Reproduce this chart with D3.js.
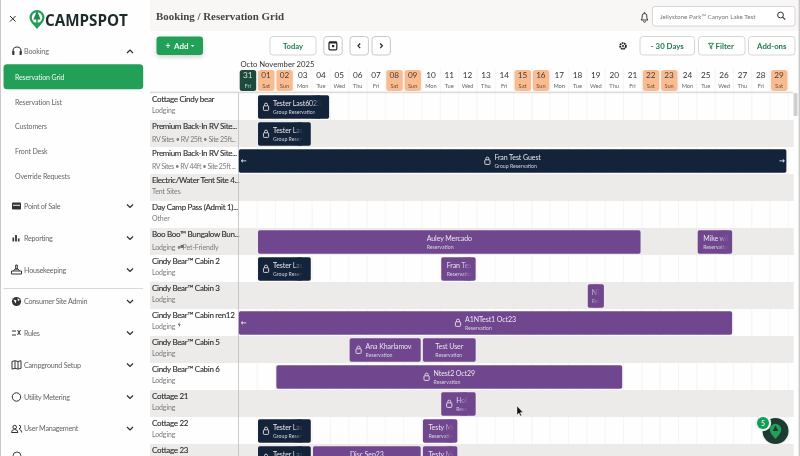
<!DOCTYPE html>
<html><head><meta charset="utf-8">
<script src="https://cdn.jsdelivr.net/npm/d3@7"></script>
<style>
html,body{margin:0;padding:0;background:#fff;overflow:hidden}
svg{display:block;filter:blur(.32px)}
text{font-family:Lato,"Noto Sans",sans-serif}
</style></head><body><svg id="c" width="800" height="456"></svg>
<script>
// ---------- data ----------
const dayNumbers=["31","01","02","03","04","05","06","07","08","09","10","11","12","13","14","15","16","17","18","19","20","21","22","23","24","25","26","27","28","29"];
const dayNames=["Fri","Sat","Sun","Mon","Tue","Wed","Thu","Fri","Sat","Sun","Mon","Tue","Wed","Thu","Fri","Sat","Sun","Mon","Tue","Wed","Thu","Fri","Sat","Sun","Mon","Tue","Wed","Thu","Fri","Sat"];
const siteNames=["Cottage Cindy bear","Premium Back-In RV Site...","Premium Back-In RV Site...","Electric/Water Tent Site 4...","Day Camp Pass (Admit 1)...","Boo Boo™ Bungalow Bun...","Cindy Bear™ Cabin 2","Cindy Bear™ Cabin 3","Cindy Bear™ Cabin ren12","Cindy Bear™ Cabin 5","Cindy Bear™ Cabin 6","Cottage 21","Cottage 22","Cottage 23"];
const siteTypes=["Lodging","RV Sites • RV 25ft • Site 25ft...","RV Sites • RV 44ft • Site 25ft ...","Tent Sites","Other","Lodging •     Pet-Friendly","Lodging","Lodging","Lodging","Lodging","Lodging","Lodging","Lodging","Lodging"];
const bookingRow=[0,1,2,5,5,6,6,7,8,9,9,10,11,12,12,13,13,13];
const bookingStart=[1,1,0,1,25,1,11,19,0,6,10,2,11,1,10,1,4,10];
const bookingEnd=[5,4,30,22,27,4,13,20,27,10,13,21,13,4,12,4,10,12];
const bookingName=["Tester Last60233","Tester Last60233","Fran Test Guest","Auley Mercado","Mike wilson","Tester Last60233","Fran Test","NTest","A1NTest1 Oct23","Ana Kharlamova","Test User","Ntest2 Oct29","Holly Test","Tester Last60233","Testy McTest","Tester Last60233","Disc Sep23","Testy McTest"];
const bookingKind=["Group Reservation","Group Reservation","Group Reservation","Reservation","Reservation","Group Reservation","Reservation","Reservation","Reservation","Reservation","Reservation","Reservation","Reservation","Group Reservation","Reservation","Group Reservation","Reservation","Reservation"];
const bookingLock=[1,1,1,0,0,1,0,0,1,1,0,1,1,1,0,1,0,0];
const navChildren=["Reservation Grid","Reservation List","Customers","Front Desk","Override Requests"];
const navGroups=["Point of Sale","Reporting","Housekeeping","Consumer Site Admin","Rules","Campground Setup","Utility Metering","User Management"];
const topButtons=["- 30 Days","Filter","Add-ons"];

// ---------- colours ----------
const GREEN="#22a058",DARKGREEN="#1f7a4c",NAVY="#13233a",PURPLE="#70478e",ROW="#ecebe9",ORANGE="#f9bc90",INK="#2e2e2e",MUTE="#7b7b7b";

const svg=d3.select("#c");
const defs=svg.append("defs");
const x=d3.scaleLinear().domain([0,30]).range([238.8,238.8+30*18.32]);
const y=d3.scaleBand().domain(d3.range(siteNames.length)).range([93,93+27*siteNames.length]);

function T(g,s,px,py,size,fill,opt={}){
  return g.append("text").attr("x",px).attr("y",py).attr("font-size",size).attr("fill",fill)
   .attr("font-weight",opt.w||400).attr("text-anchor",opt.a||"start").attr("dominant-baseline","central")
   .attr("letter-spacing",opt.ls||null).style("font-family",opt.f||null).text(s);
}
function box(g,x0,y0,w,h,fill,stroke,r=3){
  return g.append("rect").attr("x",x0).attr("y",y0).attr("width",w).attr("height",h).attr("rx",r).attr("fill",fill).attr("stroke",stroke||"none");
}
function chevron(g,cx,cy,up){
  const d=up?-1:1;
  g.append("path").attr("d",`M${cx-3},${cy-1.5*d}L${cx},${cy+1.5*d}L${cx+3},${cy-1.5*d}`).attr("fill","none").attr("stroke","#2a2a2a").attr("stroke-width",1.2);
}
function lock(g,cx,cy,col){
  g.append("rect").attr("x",cx-2.6).attr("y",cy-1).attr("width",5.2).attr("height",4.6).attr("rx",.8).attr("fill","none").attr("stroke",col).attr("stroke-width",.9);
  g.append("path").attr("d",`M${cx-1.5},${cy-1}v-1.2a1.5,1.5 0 0 1 3,0v1.2`).attr("fill","none").attr("stroke",col).attr("stroke-width",.9);
}

// ---------- backgrounds ----------
svg.append("rect").attr("width",800).attr("height",456).attr("fill","#fefefe");
svg.append("rect").attr("x",150).attr("width",650).attr("height",31).attr("fill","#f8f7f5");

// ---------- grid rows ----------
const grid=svg.append("g");
grid.selectAll("rect.row").data(siteNames).join("rect").attr("class","row")
  .attr("x",150).attr("width",643.5).attr("y",(d,i)=>y(i)).attr("height",y.bandwidth())
  .attr("fill",(d,i)=>i%2?ROW:"#fefefe");
grid.selectAll("line.col").data(d3.range(1,31)).join("line").attr("class","col")
  .attr("x1",d=>x(d)).attr("x2",d=>x(d)).attr("y1",68).attr("y2",456)
  .attr("stroke","#f1f0ef").attr("stroke-width",.7);
grid.selectAll("rect.row2").data(siteNames.map((d,i)=>i).filter(i=>i%2)).join("rect").attr("class","row2")
  .attr("x",239).attr("width",554.5).attr("y",i=>y(i)).attr("height",y.bandwidth()).attr("fill",ROW);

// ---------- site labels ----------
const labels=svg.append("g");
siteNames.forEach((n,i)=>{
  const dotted=siteTypes[i].includes("•");
  const nm=T(labels,n,152,y(i)+6.2,8,INK,{w:400,ls:-.3});
  nm.attr("stroke",INK).attr("stroke-width",.12);
  const sy=y(i)+(dotted?18.6:17);
  if(sy<452){
    const st=T(labels,siteTypes[i],152,sy,7,MUTE,{ls:-.12});
    if(st.node().getComputedTextLength()>84) st.attr("textLength",84).attr("lengthAdjust","spacing").attr("letter-spacing",null);
  }
});
labels.append("circle").attr("cx",182).attr("cy",y(5)+18.4).attr("r",1.7).attr("fill","#666");
labels.append("path").attr("d",`M179.5,${y(8)+13}l-1.6,3h1.3l-.5,2.4l2-3h-1.3z`).attr("fill","#555");
svg.append("line").attr("x1",238.5).attr("x2",238.5).attr("y1",93).attr("y2",456).attr("stroke","#bdbdbd").attr("stroke-width",.8);
svg.append("rect").attr("x",150).attr("y",91.6).attr("width",643).attr("height",1.6).attr("fill","#dcdcdc");
box(svg,793.5,93,4,23,"#cfcfcf",null,1);

// ---------- day header ----------
const hdr=svg.append("g");
T(hdr,"Octo November 2025",240.5,64,7.7,"#333",{w:400});
dayNumbers.forEach((d,i)=>{
  const cx=x(i+.5)-.2;
  const wk=dayNames[i]=="Sat"||dayNames[i]=="Sun", today=i==0;
  if(wk||today) box(hdr,x(i)+.9,70,16.5,21,today?"#1d4a3c":ORANGE,null,2.5);
  T(hdr,d,cx,75.3,8.2,today?"#d8e6df":(wk?"#4a3a2c":"#333"),{a:"middle"});
  T(hdr,dayNames[i],cx,85,5.7,today?"#bcd0c6":(wk?"#6a5140":"#666"),{a:"middle"});
});

// ---------- bookings ----------
const bars=svg.append("g");
const grad=(id,col)=>{const g=defs.append("linearGradient").attr("id",id);
  g.append("stop").attr("offset",0).attr("stop-color",col).attr("stop-opacity",0);
  g.append("stop").attr("offset",1).attr("stop-color",col).attr("stop-opacity",1);};
grad("fN",NAVY);grad("fP",PURPLE);
bookingRow.forEach((r,i)=>{
  const group=bookingKind[i].startsWith("Group");
  const col=group?NAVY:PURPLE;
  const L=x(bookingStart[i])+(bookingStart[i]==0?0:.9), R=x(bookingEnd[i])-(bookingEnd[i]==30?2:1.3);
  const bt=y(r)+2.3,h=23.4;
  const g=bars.append("g");
  box(g,L,bt,R-L,h,col,null,1.8);
  const clip="cl"+i, pad=bookingLock[i]?9:5;
  defs.append("clipPath").attr("id",clip).append("rect").attr("x",L+2).attr("y",bt).attr("width",Math.max(R-L-2-pad,4)).attr("height",h);
  const tg=g.append("g").attr("clip-path",`url(#${clip})`);
  const n=T(tg,bookingName[i],0,bt+7.2,7,"#e9e6ee",{ls:-.08});
  const ky=bt+16.4, kShown=ky<456;
  const k=T(tg,bookingKind[i],0,ky,5.2,"#d8d3de");
  const tw=Math.max(n.node().getComputedTextLength(),k.node().getComputedTextLength());
  if(!kShown) k.remove();
  const lw=bookingLock[i]?10:0;
  let cs=(L+R)/2-(tw+lw)/2;
  cs=Math.max(cs,L+(bookingLock[i]?5:(R-L<20?4:5.5)));
  if(bookingLock[i]) lock(g,cs+3,bt+11.5,"#e6e6ea");
  n.attr("x",cs+lw);k.attr("x",cs+lw);
  if(tw+lw+10>R-L) g.append("rect").attr("x",R-pad-9).attr("y",bt).attr("width",9).attr("height",h).attr("fill",`url(#${group?"fN":"fP"})`);
  if(bookingStart[i]==0) T(g,"←",L+2,bt+11.5,7,"#e6e6ea",{w:700,f:"DejaVu Sans"});
  if(bookingEnd[i]==30) T(g,"→",R-7.5,bt+11.5,7,"#e6e6ea",{w:700,f:"DejaVu Sans"});
});

// ---------- top bar ----------
const topBar=svg.append("g");
T(topBar,"Booking / Reservation Grid",156,15.8,10.9,"#444",{w:700,f:"Liberation Serif"});
topBar.append("path").attr("d","M641,20h7c-1.2-1-1.2-2.4-1.2-4.2a2.3,2.3 0 0 0-4.6,0c0,1.8 0,3.2-1.2,4.2zM643.5,21.3a1,1 0 0 0 2,0M644,13.2a.5,.8 0 0 1 1,0").attr("fill","none").attr("stroke","#222").attr("stroke-width",.9);
box(topBar,652.5,6.5,142.5,19.5,"#fff","#d6d6d6",2.5);
T(topBar,"Jellystone Park™  Canyon Lake Test",660,16.4,6.3,"#777");
topBar.append("circle").attr("cx",780.5).attr("cy",15).attr("r",2.9).attr("fill","none").attr("stroke","#333").attr("stroke-width",1);
topBar.append("line").attr("x1",782.6).attr("y1",17.1).attr("x2",785.2).attr("y2",19.6).attr("stroke","#333").attr("stroke-width",1.2);

box(topBar,156.5,36.5,46.5,18.5,GREEN,null,3).style("filter","drop-shadow(0 2px 2px rgba(0,0,0,.18))");
T(topBar,"+",168,45.8,8.6,"#f1faf4",{a:"middle",w:700});
T(topBar,"Add",174,46,8,"#f1faf4",{w:700});
topBar.append("path").attr("d","M190.8,45l3.6,0l-1.8,2z").attr("fill","#f1faf4");
box(topBar,270,36.5,46,18.5,"#fff","#d6d6d6",3);
T(topBar,"Today",293,46,7.6,DARKGREEN,{a:"middle",w:700});
box(topBar,323.8,36.5,18.4,18.5,"#fff","#c8c8c8",3);
box(topBar,329,42.2,7.8,7.6,"none","#222",1).attr("stroke-width",1.2);
topBar.append("rect").attr("x",329).attr("y",41.5).attr("width",7.8).attr("height",2).attr("fill","#222");
topBar.append("rect").attr("x",332).attr("y",45).attr("width",2.2).attr("height",2.2).attr("fill","#222");
box(topBar,350,36.5,18.4,18.5,"#fff","#c8c8c8",3);
box(topBar,372,36.5,18.4,18.5,"#fff","#c8c8c8",3);
topBar.append("path").attr("d","M360.2,43.5l-2.2,2.3l2.2,2.3M380.2,43.5l2.2,2.3l-2.2,2.3").attr("fill","none").attr("stroke","#222").attr("stroke-width",1.2);
topBar.append("circle").attr("cx",623).attr("cy",46).attr("r",2.9).attr("fill","none").attr("stroke","#222").attr("stroke-width",1.8).attr("stroke-dasharray","1.8 .6");
topBar.append("circle").attr("cx",623).attr("cy",46).attr("r",1).attr("fill","#222");
const btnX=[640,698.5,748.5],btnW=[54.5,46.5,46.5];
topButtons.forEach((b,i)=>{
  box(topBar,btnX[i],36.5,btnW[i],18.5,"#fff","#d6d6d6",3);
  T(topBar,b,btnX[i]+btnW[i]/2+(i==1?3:0),46,7.8,DARKGREEN,{a:"middle",w:700});
});
topBar.append("path").attr("d","M708.5,43.3h5l-1.8,2.4v3.2l-1.4-.8v-2.4z").attr("fill","none").attr("stroke",DARKGREEN).attr("stroke-width",.9);

// ---------- sidebar ----------
const side=svg.append("g");
side.append("rect").attr("width",150).attr("height",456).attr("fill","#fefefe");
side.append("path").attr("d","M10,16l5.5,5.5M15.5,16L10,21.5").attr("stroke","#222").attr("stroke-width",1);
side.append("path").attr("d","M37,29C33,24.5 29.5,21 29.5,17.5a7.5,7.5 0 0 1 15,0C44.5,21 41,24.5 37,29z").attr("fill",GREEN);
side.append("circle").attr("cx",37).attr("cy",17.5).attr("r",5.2).attr("fill","#fff");
side.append("path").attr("d","M37,10.5l3.6,9h-2.9v3.5h-1.4v-3.5h-2.9z").attr("fill","#1c8a4c");
T(side,"CAMPSPOT",45,20.3,15.2,"#1c2a2a",{w:700,f:"Open Sans"});

const gy={"Point of Sale":206,"Reporting":238,"Housekeeping":270,"Consumer Site Admin":301.5,"Rules":333,"Campground Setup":365,"Utility Metering":397,"User Management":428.5};
T(side,"Booking",24,51.8,7.2,"#666",{ls:-.15});
side.append("path").attr("d","M13,54v-3a4,4 0 0 1 8,0v3").attr("fill","none").attr("stroke","#333").attr("stroke-width",1.1);
side.append("rect").attr("x",12.4).attr("y",51).attr("width",2).attr("height",4).attr("fill","#333");
side.append("rect").attr("x",19.6).attr("y",51).attr("width",2).attr("height",4).attr("fill","#333");
chevron(side,130,51.5,true);
box(side,3.5,64.3,139.7,25,GREEN,null,3.5);
navChildren.forEach((n,i)=>T(side,n,15,76.8+i*24.7,7,i==0?"#f0f9f3":"#666",{ls:-.12}));
navGroups.forEach((n,i)=>{
  const py=gy[n];
  T(side,n,24,py,7.2,"#666",{ls:-.25});
  chevron(side,130,py,false);
  const ic=side.append("g").attr("transform",`translate(16.5,${py})`);
  if(i==0){ic.append("rect").attr("x",-4.5).attr("y",-3.5).attr("width",9).attr("height",7).attr("fill","#333").attr("rx",.8);ic.append("rect").attr("x",-3.5).attr("y",-1.2).attr("width",7).attr("height",1).attr("fill","#eee");}
  if(i==1){ic.append("path").attr("d","M-4,3.5v-4h1.6v4zM-1.4,3.5v-6.5h1.8v6.5zM1.4,3.5v-3h1.6v3z").attr("fill","#333");}
  if(i==2){ic.append("path").attr("d","M-5,4v-3h10v3zM-3,1l1.5-2h3l1.5,2M-.8,-1v-4h1.6v4z").attr("fill","none").attr("stroke","#333").attr("stroke-width",1);}
  if(i==3){ic.append("circle").attr("r",4.6).attr("fill","#333");ic.append("path").attr("d","M-3,-2l3,1l-1,3zM1,-3.5l2.5,2l-2,1z").attr("fill","#fff");}
  if(i==4){ic.append("path").attr("d","M-4.5,-2h4M-4.5,2h4M1,-3l3,5M4,-3l-3,5").attr("stroke","#333").attr("stroke-width",1).attr("fill","none");}
  if(i==5){ic.append("path").attr("d","M-4.5,-3.5l3,-.8l3,.8l3,-.8v7.6l-3,.8l-3,-.8l-3,.8zM-1.5,-4v7.4M1.5,-3.5v7.4").attr("fill","none").attr("stroke","#333").attr("stroke-width",1);}
  if(i==6){ic.append("circle").attr("r",4.2).attr("fill","none").attr("stroke","#333").attr("stroke-width",1);}
  if(i==7){ic.append("path").attr("d","M-5,4a3.2,3 0 0 1 6.4,0zM-1.8,-1.4m-1.8,0a1.8,1.8 0 1 0 3.6,0a1.8,1.8 0 1 0-3.6,0M2.5,-3.2a1.7,1.7 0 0 1 0,3.4M3,1a3,3 0 0 1 2.2,3").attr("fill","none").attr("stroke","#333").attr("stroke-width",1);}
});
side.append("line").attr("x1",3.5).attr("x2",143).attr("y1",288.5).attr("y2",288.5).attr("stroke","#cfcfcf").attr("stroke-width",.8);
side.append("path").attr("d","M13,456a4,4 0 0 1 8,0").attr("fill","none").attr("stroke","#444").attr("stroke-width",1);
svg.append("rect").attr("width",1).attr("height",456).attr("fill","#c9c9c9");
svg.append("rect").attr("x",798.6).attr("width",1.4).attr("height",456).attr("fill","#c9c9c9");

// ---------- floating action ----------
const fab=svg.append("g");
fab.append("circle").attr("cx",775.5).attr("cy",431).attr("r",14).attr("fill","#e9eeeb");
fab.append("circle").attr("cx",775.5).attr("cy",431).attr("r",13).attr("fill","#1d3b30");
fab.append("path").attr("d","M775.5,439C772,435 769.8,432.5 769.8,429.5a5.7,5.7 0 0 1 11.4,0C781.2,432.5 779,435 775.5,439z").attr("fill","#22a058");
fab.append("path").attr("d","M775.5,425.5l2.8,5.5h-5.6z").attr("fill","#1d3b30");
fab.append("circle").attr("cx",763).attr("cy",423).attr("r",8.2).attr("fill","#edf2ef");
fab.append("circle").attr("cx",763).attr("cy",423).attr("r",6).attr("fill","#0f9d58");
T(fab,"5",763,423,7,"#e9f7ee",{a:"middle",w:600});

// pointer
svg.append("path").attr("d","M517,406v9l2-2l1.4,3l1.2-.6l-1.4-2.9h2.8z").attr("fill","#111").attr("stroke","#fff").attr("stroke-width",.4);
</script></body></html>
